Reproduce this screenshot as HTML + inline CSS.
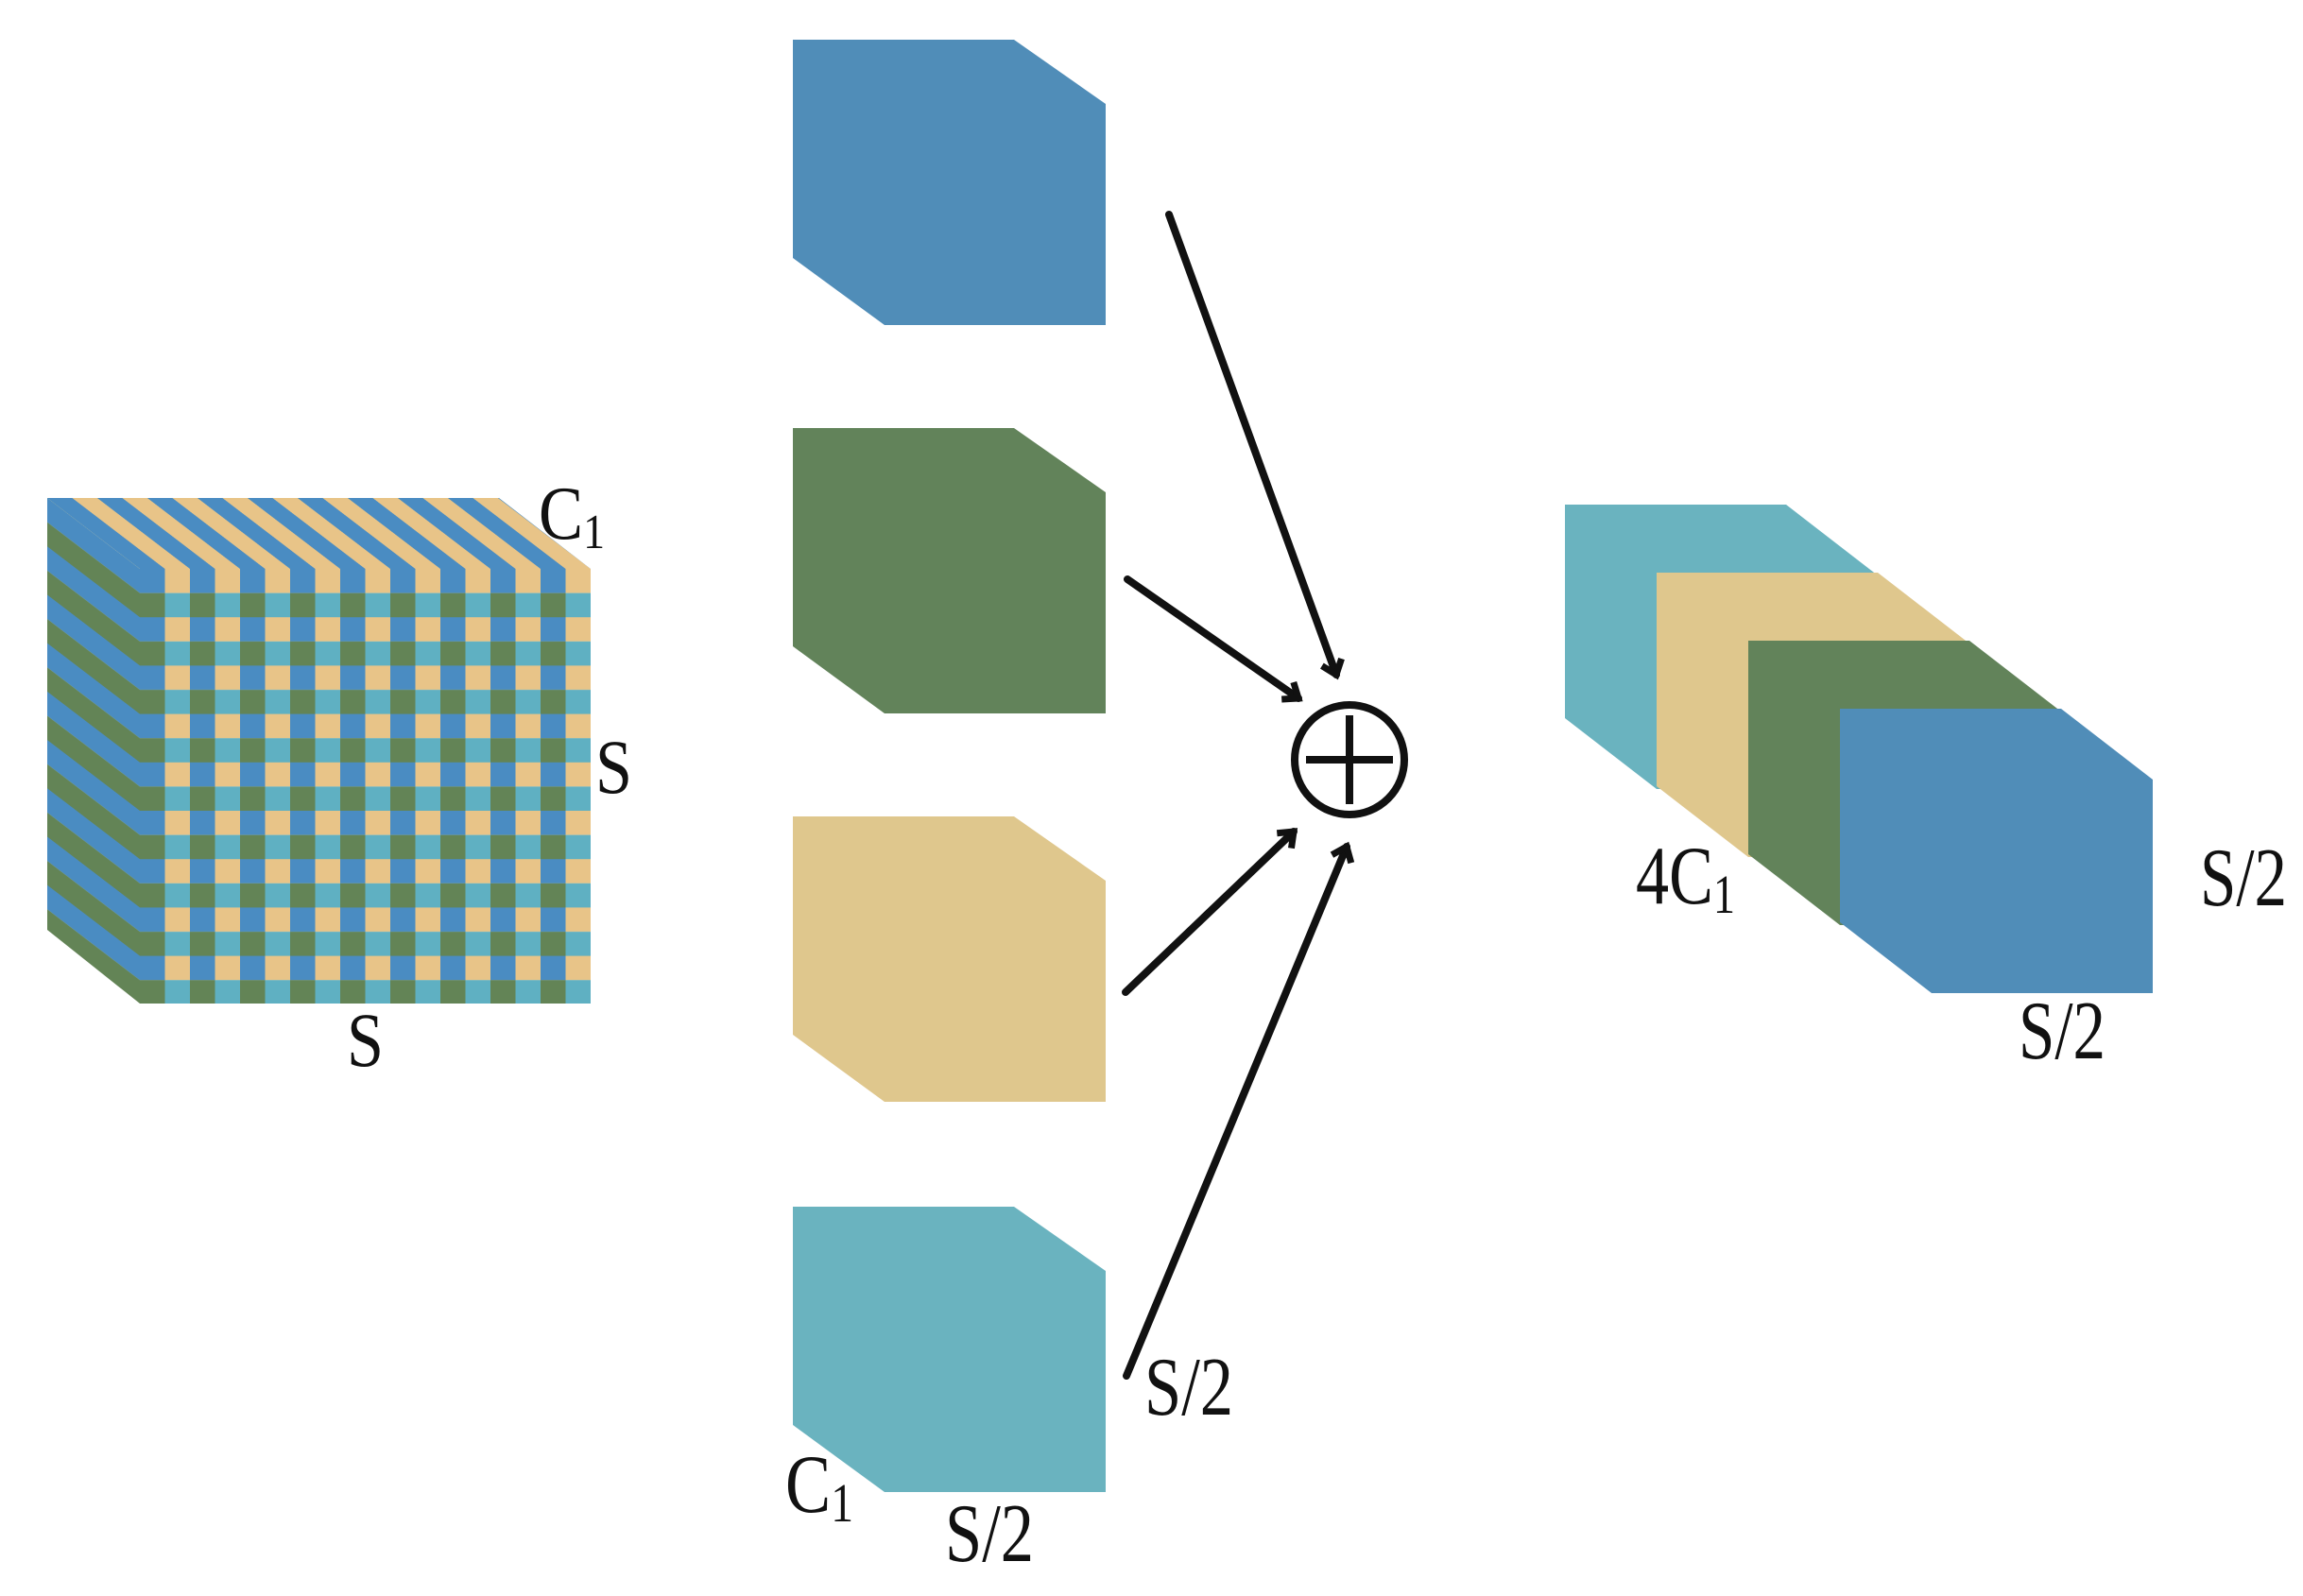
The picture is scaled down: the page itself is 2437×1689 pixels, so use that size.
<!DOCTYPE html>
<html><head><meta charset="utf-8"><style>
html,body{margin:0;padding:0;background:#fff;}
svg{display:block}
text{font-family:"Liberation Serif","Times New Roman",serif;fill:#111}
</style></head><body>
<svg width="2437" height="1689" viewBox="0 0 2437 1689" xmlns="http://www.w3.org/2000/svg">
<defs>
<pattern id="front" patternUnits="userSpaceOnUse" x="148" y="602" width="53" height="51.2">
<rect x="0" y="0" width="26.6" height="25.7" fill="#4a8cc2"/>
<rect x="26.5" y="0" width="26.6" height="25.7" fill="#e8c488"/>
<rect x="0" y="25.6" width="26.6" height="25.7" fill="#638456"/>
<rect x="26.5" y="25.6" width="26.6" height="25.7" fill="#5fb0c2"/>
</pattern>
<pattern id="top" patternUnits="userSpaceOnUse" width="53" height="100" patternTransform="translate(148,602) skewX(52.6)">
<rect x="0" y="0" width="26.6" height="100" fill="#4a8cc2"/>
<rect x="26.5" y="0" width="26.6" height="100" fill="#e8c488"/>
</pattern>
<pattern id="left" patternUnits="userSpaceOnUse" width="100" height="51.2" patternTransform="translate(148,602) skewY(37.4)">
<rect x="0" y="0" width="100" height="25.7" fill="#4a8cc2"/>
<rect x="0" y="25.6" width="100" height="25.7" fill="#638456"/>
</pattern>
<marker id="ah" markerUnits="userSpaceOnUse" markerWidth="40" markerHeight="40" refX="20" refY="20" orient="auto">
<polyline points="6,9 20,20 6,31" fill="none" stroke="#111" stroke-width="7"/>
</marker>
</defs>

<!-- big cube -->
<polygon points="50,527 528,527 625,602 148,602" fill="url(#top)"/>
<polygon points="50,527 148,602 148,1062 50,984" fill="url(#left)"/>
<rect x="148" y="602" width="477" height="460" fill="url(#front)"/>
<text x="570" y="570" font-size="80" textLength="70" lengthAdjust="spacingAndGlyphs">C<tspan font-size="52" dy="10">1</tspan></text>
<text x="630" y="839" font-size="82" textLength="39" lengthAdjust="spacingAndGlyphs">S</text>
<text x="367" y="1128" font-size="82" textLength="39" lengthAdjust="spacingAndGlyphs">S</text>

<!-- small cubes -->
<g transform="translate(-5,0)">
<polygon points="844,42 1078,42 1175,110 1175,344 941,344 844,273" fill="#508db8"/>
<polygon points="844,453 1078,453 1175,521 1175,755 941,755 844,684" fill="#62835a"/>
<polygon points="844,864 1078,864 1175,932 1175,1166 941,1166 844,1095" fill="#dfc78d"/>
<polygon points="844,1277 1078,1277 1175,1345 1175,1579 941,1579 844,1508" fill="#6ab3bf"/>
</g>
<text x="1211" y="1497" font-size="88" textLength="94" lengthAdjust="spacingAndGlyphs">S/2</text>
<text x="831" y="1600" font-size="88" textLength="72" lengthAdjust="spacingAndGlyphs">C<tspan font-size="58" dy="10">1</tspan></text>
<text x="1000" y="1652" font-size="88" textLength="94" lengthAdjust="spacingAndGlyphs">S/2</text>

<!-- arrows -->
<g stroke="#111" stroke-width="8" fill="none" stroke-linecap="round">
<line x1="1237" y1="227" x2="1414" y2="714" marker-end="url(#ah)"/>
<line x1="1193" y1="613" x2="1374" y2="739" marker-end="url(#ah)"/>
<line x1="1191" y1="1050" x2="1369" y2="880" marker-end="url(#ah)"/>
<line x1="1192" y1="1456" x2="1425" y2="896" marker-end="url(#ah)"/>
</g>
<circle cx="1428" cy="804" r="58" fill="none" stroke="#111" stroke-width="8"/>
<line x1="1382" y1="804" x2="1474" y2="804" stroke="#111" stroke-width="8"/>
<line x1="1428" y1="757" x2="1428" y2="851" stroke="#111" stroke-width="8"/>

<!-- right stack -->
<g transform="translate(-8,0)">
<polygon points="1664,534 1898,534 1995,609 1995,835 1761,835 1664,760" fill="#6ab3bf"/>
<polygon points="1761,606 1995,606 2092,681 2092,907 1858,907 1761,832" fill="#dfc78d"/>
<polygon points="1858,678 2092,678 2189,753 2189,979 1955,979 1858,904" fill="#62835a"/>
<polygon points="1955,750 2189,750 2286,825 2286,1051 2052,1051 1955,976" fill="#508db8"/>
</g>
<text x="1731" y="956" font-size="88" textLength="105" lengthAdjust="spacingAndGlyphs">4C<tspan font-size="58" dy="10">1</tspan></text>
<text x="2328" y="958" font-size="88" textLength="92" lengthAdjust="spacingAndGlyphs">S/2</text>
<text x="2136" y="1120" font-size="88" textLength="92" lengthAdjust="spacingAndGlyphs">S/2</text>
</svg>
</body></html>
